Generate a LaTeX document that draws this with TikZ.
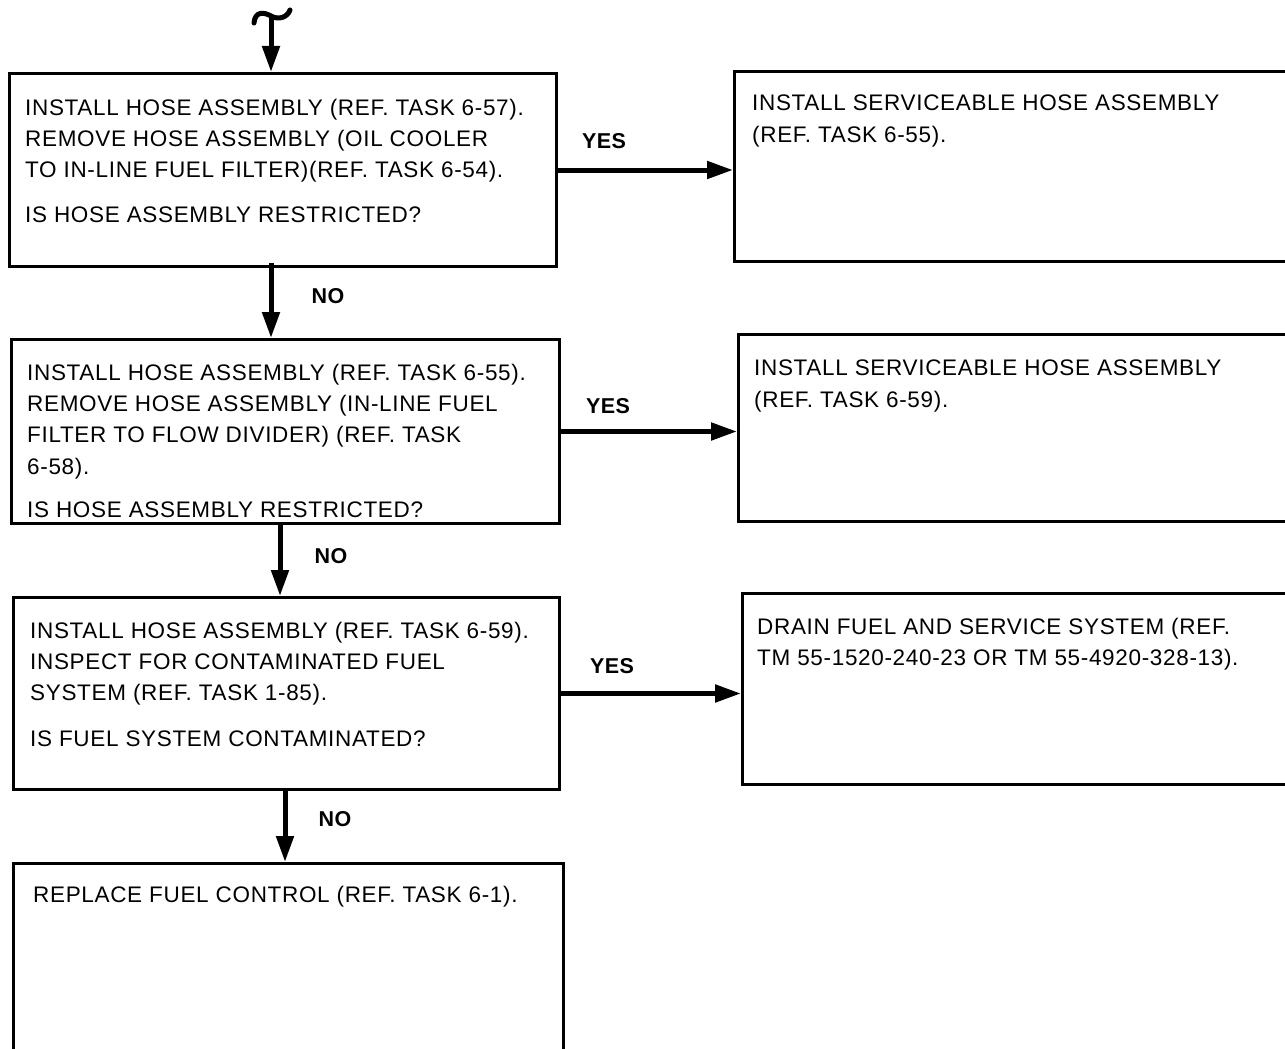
\documentclass[tikz,border=0pt]{standalone}
\usepackage{fontspec}
\setmainfont{Liberation Sans}[LetterSpace=3]
\newfontfamily\lblfont{Liberation Sans}[LetterSpace=2]
\usetikzlibrary{arrows.meta}
\begin{document}
\begin{tikzpicture}[x=1pt,y=-1pt,
  boxstyle/.style={draw=black,line width=3pt,anchor=north west,inner sep=0pt},
  txt/.style={anchor=north west,inner sep=0pt,align=left,font=\fontsize{22.5}{31.2}\selectfont},
  lbl/.style={font=\lblfont\fontsize{21.5}{24}\selectfont\bfseries,inner sep=0pt},
  arr/.style={line width=5pt,-{Triangle[length=26pt,width=17pt]}}]
\useasboundingbox[fill=white] (0,0) rectangle (1285,1049);

% boxes
\node[boxstyle,minimum width=547pt,minimum height=193pt] (b1) at (8,72) {};
\node[boxstyle,minimum width=548pt,minimum height=184pt] (b2) at (10,338) {};
\node[boxstyle,minimum width=546pt,minimum height=192pt] (b3) at (12,596) {};
\node[boxstyle,minimum width=550pt,minimum height=195pt] (b4) at (12,862) {};
\node[boxstyle,minimum width=570pt,minimum height=190pt] (r1) at (733,70) {};
\node[boxstyle,minimum width=570pt,minimum height=187pt] (r2) at (737,333) {};
\node[boxstyle,minimum width=570pt,minimum height=191pt] (r3) at (741,592) {};

% texts
\node[txt] (t1) at (25,99) {INSTALL HOSE ASSEMBLY (REF. TASK 6-57).\\
REMOVE HOSE ASSEMBLY (OIL COOLER\\
TO IN-LINE FUEL FILTER)(REF. TASK 6-54).\\[13.5pt]
IS HOSE ASSEMBLY RESTRICTED?};
\node[txt] (t2) at (27,364) {INSTALL HOSE ASSEMBLY (REF. TASK 6-55).\\
REMOVE HOSE ASSEMBLY (IN-LINE FUEL\\
FILTER TO FLOW DIVIDER) (REF. TASK\\
6-58).\\[12.5pt]
IS HOSE ASSEMBLY RESTRICTED?};
\node[txt] (t3) at (30,622) {INSTALL HOSE ASSEMBLY (REF. TASK 6-59).\\
INSPECT FOR CONTAMINATED FUEL\\
SYSTEM (REF. TASK 1-85).\\[14pt]
IS FUEL SYSTEM CONTAMINATED?};
\node[txt] (t4) at (33,886) {REPLACE FUEL CONTROL (REF. TASK 6-1).};
\node[txt] (u1) at (752,95) {INSTALL SERVICEABLE HOSE ASSEMBLY\\
(REF. TASK 6-55).};
\node[txt] (u2) at (754,360) {INSTALL SERVICEABLE HOSE ASSEMBLY\\
(REF. TASK 6-59).};
\node[txt] (u3) at (757,618) {DRAIN FUEL AND SERVICE SYSTEM (REF.\\
TM 55-1520-240-23 OR TM 55-4920-328-13).};

% labels
\node[lbl] (y1) at (604,141) {YES};
\node[lbl] (y2) at (608,406) {YES};
\node[lbl] (y3) at (612,666) {YES};
\node[lbl] (n1) at (328,296) {NO};
\node[lbl] (n2) at (331,556) {NO};
\node[lbl] (n3) at (335,819) {NO};

% entry arrow with wavy top
\coordinate (top) at (271,16);
\draw[line width=5pt,line cap=round] (254,23) .. controls (255,11) and (264,12) .. (top)
  .. controls (278,20) and (287,18) .. (290,10);
\draw[arr] (top) -- (top |- b1.north);

% vertical NO arrows
\coordinate (a1) at (271,263);
\coordinate (a2) at (280,522);
\coordinate (a3) at (285,788);
\draw[arr] (a1) -- (a1 |- b2.north);
\draw[arr] (a2) -- (a2 |- b3.north);
\draw[arr] (a3) -- (a3 |- b4.north);

% horizontal YES arrows
\draw[arr] (b1.east) -- (b1.east -| r1.west);
\draw[arr] (b2.east) -- (b2.east -| r2.west);
\draw[arr] (b3.east) -- (b3.east -| r3.west);
\end{tikzpicture}
\end{document}
